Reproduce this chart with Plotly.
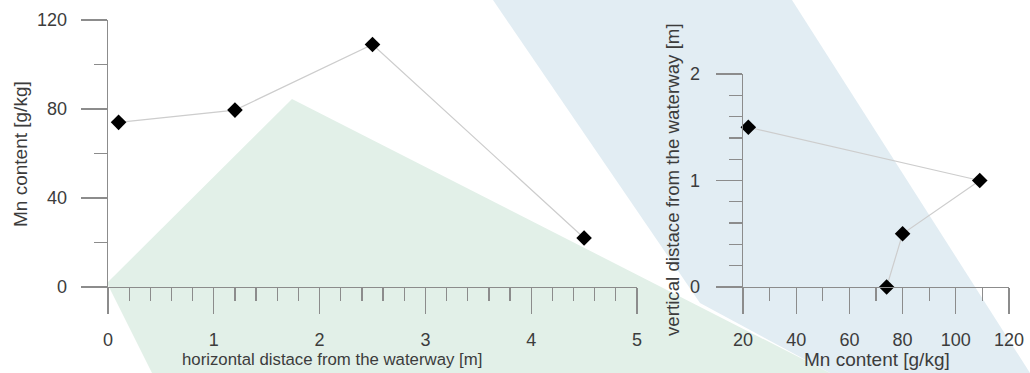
import plotly.graph_objects as go

W, H = 1030, 373

# ---- data ----
h_dist = [0.1, 1.2, 2.5, 4.5]          # horizontal distance [m]
h_mn = [74, 79.5, 109, 22]             # Mn content [g/kg]
v_mn = [74, 80, 109, 22]               # Mn content [g/kg]
v_dist = [0.0, 0.5, 1.0, 1.5]          # vertical distance [m]

left_xticks = [0, 1, 2, 3, 4, 5]
left_yticks = [0, 40, 80, 120]
right_xticks = [20, 40, 60, 80, 100, 120]
right_yticks = [0, 1, 2]

# ---- styling ----
FONT = "Liberation Sans, Arial, sans-serif"
TXT = "#3c3c3c"
AX = "#8c8c8c"
LINE = "#cdcdcd"
GREEN = "#e2f0e8"
BLUE = "#e2edf3"

# decorative background polygons (pixel space)
green_poly = [(107, 283), (292, 99), (830, 373), (152, 373)]
blue_poly = [(493, 0), (792, 0), (1030, 373), (830, 373), (700, 303)]


def to_path(pts):
    s = ""
    for i, (px, py) in enumerate(pts):
        s += ("M" if i == 0 else "L") + f"{px / W:.5f},{1 - py / H:.5f} "
    return s + "Z"


fig = go.Figure()
fig.add_trace(go.Scatter(
    x=h_dist, y=h_mn, mode="lines+markers", xaxis="x", yaxis="y",
    line=dict(color=LINE, width=1.2),
    marker=dict(symbol="diamond", size=12, color="black"),
    cliponaxis=False, showlegend=False, hoverinfo="skip"))
fig.add_trace(go.Scatter(
    x=v_mn, y=v_dist, mode="lines+markers", xaxis="x2", yaxis="y2",
    line=dict(color=LINE, width=1.2),
    marker=dict(symbol="diamond", size=12, color="black"),
    cliponaxis=False, showlegend=False, hoverinfo="skip"))


def axis(domain, rng, ticks, minor_dtick, anchor, standoff):
    return dict(
        domain=domain, range=rng, anchor=anchor,
        tickmode="array", tickvals=ticks, ticktext=[str(t) for t in ticks],
        showline=True, linecolor=AX, linewidth=1.3,
        ticks="outside", ticklen=26, tickwidth=1.3, tickcolor=AX,
        minor=dict(ticks="outside", ticklen=13, tickwidth=1.3, tickcolor=AX,
                   dtick=minor_dtick, tick0=0, showgrid=False),
        showgrid=False, zeroline=False, automargin=False,
        tickfont=dict(family=FONT, size=18, color=TXT),
        ticklabelstandoff=standoff, fixedrange=True,
    )


def title(text, px, py, size, angle=0):
    return dict(text=text, x=px / W, y=1 - py / H, xref="paper", yref="paper",
                xanchor="center", yanchor="middle", textangle=angle,
                showarrow=False, font=dict(family=FONT, size=size, color=TXT))


fig.update_layout(
    width=W, height=H, margin=dict(l=0, r=0, t=0, b=0),
    paper_bgcolor="white", plot_bgcolor="rgba(0,0,0,0)",
    xaxis=axis([108 / W, 637 / W], [0, 5], left_xticks, 0.2, "y", 10),
    yaxis=axis([1 - 287 / H, 1 - 20 / H], [0, 120], left_yticks, 20, "x", 10),
    xaxis2=axis([743 / W, 1009 / W], [20, 120], right_xticks, 10, "y2", 10),
    yaxis2=axis([1 - 287 / H, 1 - 74 / H], [0, 2], right_yticks, 0.2, "x2", 12),
    shapes=[
        dict(type="path", path=to_path(blue_poly), xref="paper", yref="paper",
             fillcolor=BLUE, line=dict(width=0), layer="below"),
        dict(type="path", path=to_path(green_poly), xref="paper", yref="paper",
             fillcolor=GREEN, line=dict(width=0), layer="below"),
    ],
    annotations=[
        title("horizontal distace from the waterway [m]", 332, 359, 16.8),
        title("Mn content [g/kg]", 20, 154, 19, -90),
        title("vertical distace from the waterway [m]", 672, 180, 18.7, -90),
        title("Mn content [g/kg]", 877, 359, 19),
    ],
)

fig.write_html("out.html", config={"displayModeBar": False, "staticPlot": True},
               post_script="document.body.style.margin='0px';document.body.style.overflow='hidden';")
